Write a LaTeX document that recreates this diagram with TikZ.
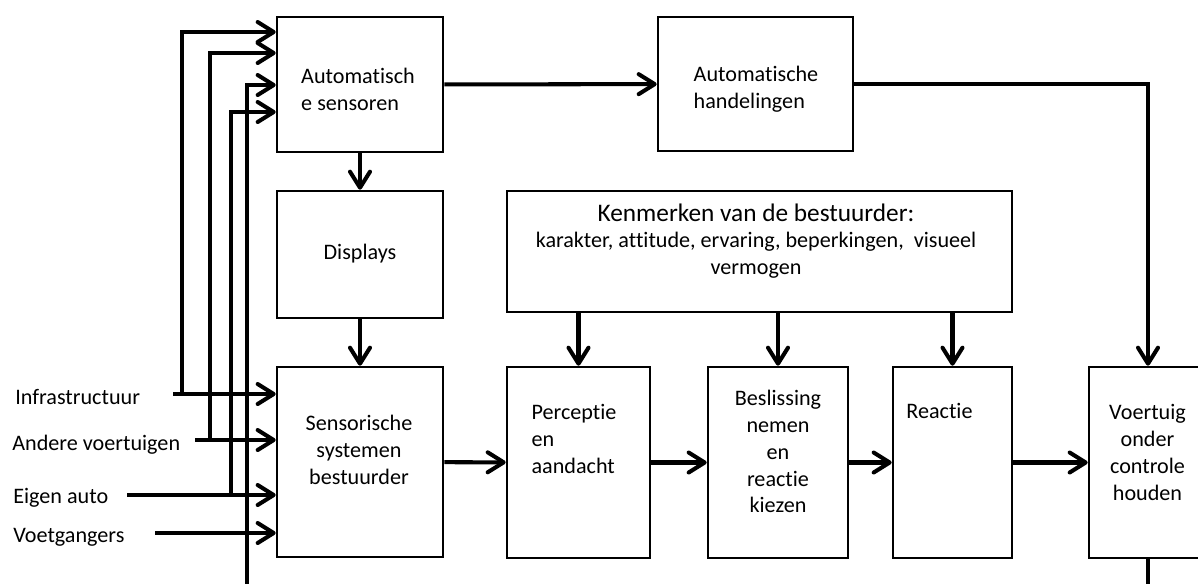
\documentclass[tikz,border=0pt]{standalone}
\usepackage{fontspec}
\setmainfont{Carlito}[Ligatures=NoCommon]
\usetikzlibrary{arrows.meta}

\tikzset{
  blok/.style={rectangle, draw, line width=1.5pt, inner sep=0pt},
  tekst/.style={inner sep=0pt, font=\fontsize{12.6}{15.3}\selectfont},
  pijl/.style={line width=2.3pt, -{Straight Barb[length=3.2mm, width=4mm, round]}},
  lijn/.style={line width=2.3pt}
}

\begin{document}
\begin{tikzpicture}[x=0.02cm, y=-0.02cm]
        \useasboundingbox (0,0) rectangle (1198,583);
        \clip (0,0) rectangle (1198,583);

        % blokken
        \node (sensoren) [blok, minimum width=3.32cm, minimum height=2.70cm] at (360,84.5) {};
        \node (handelingen) [blok, minimum width=3.90cm, minimum height=2.68cm] at (755.5,84) {};
        \node (displays) [blok, minimum width=3.32cm, minimum height=2.54cm] at (360,254.5) {};
        \node (kenmerken) [blok, minimum width=10.10cm, minimum height=2.42cm] at (759.5,251.5) {};
        \node (sensorisch) [blok, minimum width=3.32cm, minimum height=3.80cm] at (360,462) {};
        \node (perceptie) [blok, minimum width=2.86cm, minimum height=3.82cm] at (578.5,462.5) {};
        \node (beslissing) [blok, minimum width=2.80cm, minimum height=3.82cm] at (778,462.5) {};
        \node (reactie) [blok, minimum width=2.38cm, minimum height=3.82cm] at (952.5,462.5) {};
        \node (voertuig) [blok, minimum width=2.36cm, minimum height=3.82cm] at (1148,462.5) {};

        % teksten in de blokken
        \node (sensoren-t) [tekst, align=left] at (358,89) {Automatisch\\e sensoren};
        \node (handelingen-t) [tekst, align=left] at (756,89) {Automatische\\handelingen};
        \node (displays-t) [tekst] at (360,254) {Displays};
        \node (kenmerken-t) [tekst, align=center] at (756,241)
            {{\fontsize{14.4}{16.5}\selectfont Kenmerken van de bestuurder:}\\karakter,\ attitude,\ ervaring,\ beperkingen,\ \ visueel\\vermogen};
        \node (sensorisch-t) [tekst, align=center] at (359,450) {Sensorische\\systemen\\bestuurder};
        \node (perceptie-t) [tekst, align=left] at (574,439) {Perceptie\\en\\aandacht};
        \node (beslissing-t) [tekst, align=center] at (778,451.5) {Beslissing\\nemen\\en\\reactie\\kiezen};
        \node (reactie-t) [tekst] at (939.5,411) {Reactie};
        \node (voertuig-t) [tekst, align=center] at (1147.5,452.5) {Voertuig\\onder\\controle\\houden};

        % invoer links
        \node (infra) [tekst, anchor=base west] at (15,404) {Infrastructuur};
        \node (andere) [tekst, anchor=base west] at (12,450) {Andere voertuigen};
        \node (eigen) [tekst, anchor=base west] at (13,503) {Eigen auto};
        \node (voet) [tekst, anchor=base west] at (13,542) {Voetgangers};

        \coordinate (infra-in) at (173,394);
        \coordinate (infra-tak) at (182,394);
        \coordinate (andere-in) at (195,440);
        \coordinate (andere-tak) at (210,440);
        \coordinate (eigen-in) at (127,495);
        \coordinate (eigen-tak) at (231,495);
        \coordinate (voet-in) at (155,533);
        \coordinate (terug) at (247,640);

        \draw[pijl] (infra-in) -- (infra-in -| sensorisch.west);
        \draw[pijl] (andere-in) -- (andere-in -| sensorisch.west);
        \draw[pijl] (eigen-in) -- (eigen-in -| sensorisch.west);
        \draw[pijl] (voet-in) -- (voet-in -| sensorisch.west);

        \draw[pijl] (infra-tak) |- (sensoren.west |- 0,32);
        \draw[pijl] (andere-tak) |- (sensoren.west |- 0,53);
        \draw[pijl] (eigen-tak) |- (sensoren.west |- 0,112);

        % terugkoppeling
        \draw[pijl] (voertuig.south) |- (terug) |- (sensoren.west |- 0,85);

        % verbindingen
        \draw[pijl] (sensoren) -- (handelingen);
        \draw[pijl] (handelingen.east) -| (voertuig.north);
        \draw[pijl] (sensoren) -- (displays);
        \draw[pijl] (displays) -- (sensorisch);
        \draw[pijl] (kenmerken.south -| perceptie) -- (perceptie.north);
        \draw[pijl] (kenmerken.south -| beslissing) -- (beslissing.north);
        \draw[pijl] (kenmerken.south -| reactie) -- (reactie.north);
        \draw[pijl] (sensorisch) -- (perceptie);
        \draw[pijl] (perceptie) -- (beslissing);
        \draw[pijl] (beslissing) -- (reactie);
        \draw[pijl] (reactie) -- (voertuig);
    \end{tikzpicture}
\end{document}
